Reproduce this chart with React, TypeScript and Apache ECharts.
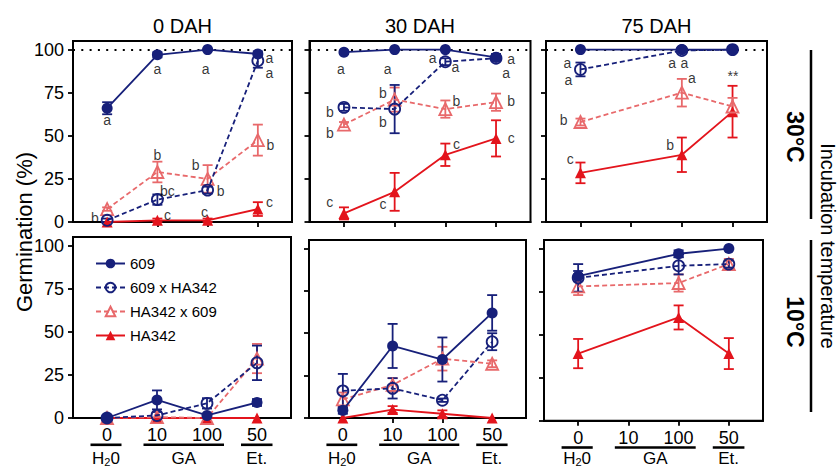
import React, { useEffect, useRef } from "react";
import * as echarts from "echarts";

// ---------- tick labels, titles, names ----------
const doseTicks = ["0", "10", "100", "50"];
const panelTitles = ["0 DAH", "30 DAH", "75 DAH"];
const seriesNames = ["609", "609 x HA342", "HA342 x 609", "HA342"];
const groupLabels = ["H2O", "GA", "Et."];
const groupFrom = [-0.33, 0.73, 2.68];
const groupTo = [0.29, 2.34, 3.31];
const yTicks = [0, 25, 50, 75, 100];

// ---------- 30 °C, 0 DAH ----------
const v609_0d30 = [66, 97, 100, 97.5];
const e609_0d30 = [3.5, 1.5, 0.5, 1.5];
const vF1_0d30 = [1, 13, 18.5, 93.5];
const eF1_0d30 = [1, 3, 2, 4];
const vR1_0d30 = [7.5, 29, 25, 47.5];
const eR1_0d30 = [1, 6, 8, 9];
const vHA_0d30 = [0, 1, 1, 7.5];
const eHA_0d30 = [0, 1, 1, 4];

// ---------- 30 °C, 30 DAH ----------
const v609_30d30 = [98.5, 100, 100, 95.5];
const e609_30d30 = [1, 0, 0, 2];
const vF1_30d30 = [66.5, 65.5, 93, 95];
const eF1_30d30 = [2, 14, 2, 1.5];
const vR1_30d30 = [56.5, 71, 65.5, 69.5];
const eR1_30d30 = [1.5, 7, 5, 5];
const vHA_30d30 = [5, 17.5, 39, 48.5];
const eHA_30d30 = [3.5, 11, 6.5, 10.5];

// ---------- 30 °C, 75 DAH ----------
const v609_75d30 = [100, null, 100, 100];
const e609_75d30 = [0, null, 0, 0];
const vF1_75d30 = [88.5, null, 99.5, 100];
const eF1_75d30 = [4, null, 0.5, 0];
const vR1_75d30 = [58, null, 75, 67];
const eR1_75d30 = [2, null, 8, 5];
const vHA_75d30 = [28.5, null, 39, 64];
const eHA_75d30 = [6, null, 10, 15];

// ---------- 10 °C, 0 DAH ----------
const v609_0d10 = [0, 10.5, 1.5, 9];
const e609_0d10 = [0, 5.5, 1, 2];
const vF1_0d10 = [0, 1.5, 8.5, 32];
const eF1_0d10 = [0, 2, 3, 10];
const vR1_0d10 = [0, 0.5, 0, 34.5];
const eR1_0d10 = [0, 0, 0, 8.5];
const vHA_0d10 = [0, 0, 0, 0];
const eHA_0d10 = [0, 0, 0, 0];

// ---------- 10 °C, 30 DAH ----------
const v609_30d10 = [4.5, 42.5, 34.5, 62];
const e609_30d10 = [2, 13, 13, 10.5];
const vF1_30d10 = [16, 17.5, 10.5, 45];
const eF1_30d10 = [10, 6, 1, 5];
const vR1_30d10 = [11, 19.5, 35, 32];
const eR1_30d10 = [4, 4, 7, 2];
const vHA_30d10 = [0, 5, 2.5, 0];
const eHA_30d10 = [0, 2, 2, 0];

// ---------- 10 °C, 75 DAH ----------
const v609_75d10 = [84, null, 97, 100];
const e609_75d10 = [3, null, 2, 0];
const vF1_75d10 = [83, null, 90, 91];
const eF1_75d10 = [8, null, 5, 2];
const vR1_75d10 = [78, null, 80, 91];
const eR1_75d10 = [5, null, 5, 3];
const vHA_75d10 = [39, null, 60, 39];
const eHA_75d10 = [8.5, null, 7, 9];

// ---------- significance letters [x, y, text] ----------
const let_0d30: [number, number, string][] = [
  [0, 59.3, "a"], [1.0, 88.7, "a"], [1.96, 88.7, "a"], [3.23, 95.0, "a"], [3.23, 86.5, "a"],
  [-0.245, 2.1, "b"], [1.2, 18, "bc"], [2.26, 18, "b"],
  [1.0, 38.7, "b"], [1.76, 32.9, "b"], [3.25, 44.4, "b"],
  [1.2, 4, "c"], [1.94, 5.6, "c"], [3.23, 11.7, "c"],
];
const let_30d30: [number, number, string][] = [
  [-0.06, 88.9, "a"], [0.86, 88.9, "a"], [1.75, 95.2, "a"], [2.2, 90, "a"], [3.3, 94.6, "a"], [3.2, 86.6, "a"],
  [-0.28, 64, "b"], [-0.28, 51.4, "b"], [0.77, 75, "b"], [0.77, 58.3, "b"], [2.22, 70.4, "b"], [3.3, 70.4, "b"],
  [-0.28, 11.5, "c"], [0.77, 10.4, "c"], [2.22, 45, "c"], [3.3, 49, "c"],
];
const let_75d30: [number, number, string][] = [
  [-0.26, 92.3, "a"], [-0.24, 82.5, "a"], [1.81, 92.3, "a"], [2.05, 92.3, "a"],
  [-0.33, 58.9, "b"], [2.2, 83.7, "a"], [3.01, 84.8, "**"],
  [-0.2, 36.4, "c"], [1.77, 44.4, "b"],
];

const panelValues = [
  [v609_0d30, vF1_0d30, vR1_0d30, vHA_0d30],
  [v609_30d30, vF1_30d30, vR1_30d30, vHA_30d30],
  [v609_75d30, vF1_75d30, vR1_75d30, vHA_75d30],
  [v609_0d10, vF1_0d10, vR1_0d10, vHA_0d10],
  [v609_30d10, vF1_30d10, vR1_30d10, vHA_30d10],
  [v609_75d10, vF1_75d10, vR1_75d10, vHA_75d10],
];
const panelErrors = [
  [e609_0d30, eF1_0d30, eR1_0d30, eHA_0d30],
  [e609_30d30, eF1_30d30, eR1_30d30, eHA_30d30],
  [e609_75d30, eF1_75d30, eR1_75d30, eHA_75d30],
  [e609_0d10, eF1_0d10, eR1_0d10, eHA_0d10],
  [e609_30d10, eF1_30d10, eR1_30d10, eHA_30d10],
  [e609_75d10, eF1_75d10, eR1_75d10, eHA_75d10],
];
const panelLetters = [let_0d30, let_30d30, let_75d30, [], [], []];

// ---------- layout & styles ----------
const FONT = "Liberation Sans, Arial, Helvetica, sans-serif";
const NAVY = "#17207a";
const PINK = "#e8696b";
const RED = "#e3141c";
const layout = [
  [73, 41, 219, 181],
  [309.5, 41, 221, 181],
  [546, 41, 221, 181],
  [73, 237, 218, 181],
  [309, 240, 217, 178],
  [544, 240, 219, 180.7],
];
const seriesStyle = [
  { color: NAVY, dashed: false, symbol: "circle", filled: true, size: 11 },
  { color: NAVY, dashed: true, symbol: "circle", filled: false, size: 11 },
  { color: PINK, dashed: true, symbol: "triangle", filled: false, size: 12 },
  { color: RED, dashed: false, symbol: "triangle", filled: true, size: 11 },
];

function buildOption() {
  const grid: any[] = [];
  const xAxis: any[] = [];
  const yAxis: any[] = [];
  const series: any[] = [];

  layout.forEach(([left, top, width, height], i) => {
    const bottomRow = i >= 3;
    grid.push({
      left, top, width, height,
      show: true, borderColor: "#000", borderWidth: 2,
      backgroundColor: "transparent", containLabel: false,
    });
    xAxis.push({
      type: "value", gridIndex: i, min: -0.68, max: 3.68,
      axisLine: { show: true, onZero: false, lineStyle: { color: "#000", width: 2 } },
      axisTick: { show: true, customValues: [0, 1, 2, 3], length: 5, lineStyle: { color: "#000", width: 1.8 } },
      axisLabel: {
        show: bottomRow, customValues: [0, 1, 2, 3],
        formatter: (v: number) => doseTicks[Math.round(v)] ?? "",
        fontSize: 18, color: "#000", margin: 8, fontFamily: FONT,
      },
      splitLine: { show: false },
    });
    yAxis.push({
      type: "value", gridIndex: i, min: 0, max: 105,
      axisLine: { show: true, onZero: false, lineStyle: { color: "#000", width: 2 } },
      axisTick: { show: true, customValues: yTicks, length: 5, lineStyle: { color: "#000", width: 1.8 } },
      axisLabel: {
        show: i % 3 === 0, customValues: yTicks,
        fontSize: 18, color: "#000", margin: 9, fontFamily: FONT,
      },
      splitLine: { show: false },
    });

    // draw series in reverse so "609" ends up on top
    for (let s = 3; s >= 0; s--) {
      const st = seriesStyle[s];
      const vals = panelValues[i][s];
      const errs = panelErrors[i][s];
      const pts: number[][] = [];
      const eb: number[][] = [];
      vals.forEach((v, k) => {
        if (v === null || v === undefined) return;
        pts.push([k, v as number]);
        eb.push([k, v as number, (errs[k] as number) || 0]);
      });
      series.push({
        type: "custom", xAxisIndex: i, yAxisIndex: i, silent: true, z: 2,
        encode: { x: 0, y: 1 }, data: eb, clip: false,
        renderItem: (params: any, api: any) => {
          const x = api.value(0), y = api.value(1), e = api.value(2);
          if (!e) return null;
          const t = api.coord([x, y + e]);
          const b = api.coord([x, y - e]);
          const hw = 5;
          const style = { stroke: st.color, lineWidth: 1.8, fill: "none" };
          return {
            type: "group",
            children: [
              { type: "line", shape: { x1: t[0], y1: t[1], x2: b[0], y2: b[1] }, style },
              { type: "line", shape: { x1: t[0] - hw, y1: t[1], x2: t[0] + hw, y2: t[1] }, style },
              { type: "line", shape: { x1: b[0] - hw, y1: b[1], x2: b[0] + hw, y2: b[1] }, style },
            ],
          };
        },
      });
      const line: any = {
        type: "line", name: seriesNames[s], xAxisIndex: i, yAxisIndex: i,
        data: pts, symbol: st.symbol, symbolSize: st.size, showSymbol: true,
        clip: false, z: 3 + (3 - s),
        lineStyle: { color: st.color, width: 1.8, type: st.dashed ? [5, 3] : "solid" },
        itemStyle: st.filled
          ? { color: st.color, borderWidth: 0 }
          : { color: "rgba(255,255,255,0)", borderColor: st.color, borderWidth: 1.8 },
        emphasis: { disabled: true },
      };
      if (s === 0 && i < 3) {
        line.markLine = {
          silent: true, symbol: "none", label: { show: false },
          lineStyle: { color: "#000", type: [2, 6.3], width: 2.2 },
          data: [{ yAxis: 100 }], z: 1,
        };
      }
      series.push(line);
    }

    // significance letters
    const letters = panelLetters[i];
    if (letters.length) {
      series.push({
        type: "scatter", xAxisIndex: i, yAxisIndex: i, silent: true, z: 10,
        symbolSize: 1, itemStyle: { color: "rgba(0,0,0,0)" },
        data: letters.map(([x, y, t]) => ({ value: [x, y], name: t })),
        label: {
          show: true, position: "inside", formatter: "{b}",
          fontSize: 14, lineHeight: 12, color: "#000", fontFamily: FONT,
        },
        labelLayout: { hideOverlap: false },
        emphasis: { disabled: true },
      });
    }

    // treatment groups under bottom row
    if (bottomRow) {
      series.push({
        type: "custom", xAxisIndex: i, yAxisIndex: i, silent: true, z: 5, clip: false,
        encode: { x: [0, 1] },
        data: groupFrom.map((f, k) => [f, groupTo[k]]),
        renderItem: (params: any, api: any) => {
          const a = api.coord([api.value(0), 0]);
          const b = api.coord([api.value(1), 0]);
          const y = a[1];
          const lab = groupLabels[params.dataIndex];
          const text = lab === "H2O" ? "{n|H}{s|2}{n|0}" : `{n|${lab}}`;
          return {
            type: "group",
            children: [
              { type: "rect", shape: { x: a[0], y: y + 25.5, width: b[0] - a[0], height: 2.6 }, style: { fill: "#000" } },
              {
                type: "text", x: (a[0] + b[0]) / 2, y: Math.min(y + 40, 458),
                style: {
                  text, align: "center", verticalAlign: "middle", fill: "#000",
                  rich: {
                    n: { fontSize: 17, fontFamily: FONT, lineHeight: 17 },
                    s: { fontSize: 11, fontFamily: FONT, verticalAlign: "bottom", lineHeight: 19 },
                  },
                },
              },
            ],
          };
        },
      });
    }
  });

  const graphic: any[] = [];
  panelTitles.forEach((t, c) => {
    const [left, , width] = layout[c];
    graphic.push({
      type: "text", x: left + width / 2, y: 26, silent: true,
      style: { text: t, fontSize: 20, fontFamily: FONT, fill: "#000", align: "center", verticalAlign: "middle" },
    });
  });
  graphic.push(
    {
      type: "text", x: 24, y: 232, rotation: Math.PI / 2, silent: true,
      style: { text: "Germination (%)", fontSize: 22, fontFamily: FONT, fill: "#000", align: "center", verticalAlign: "middle" },
    },
    { type: "line", silent: true, shape: { x1: 811, y1: 50, x2: 811, y2: 219 }, style: { stroke: "#000", lineWidth: 2.5 } },
    { type: "line", silent: true, shape: { x1: 811, y1: 240, x2: 811, y2: 412 }, style: { stroke: "#000", lineWidth: 2.5 } },
    {
      type: "text", x: 795, y: 137, rotation: -Math.PI / 2, silent: true,
      style: { text: "30°C", fontSize: 23, fontWeight: "bold", fontFamily: FONT, fill: "#000", align: "center", verticalAlign: "middle" },
    },
    {
      type: "text", x: 795, y: 322, rotation: -Math.PI / 2, silent: true,
      style: { text: "10°C", fontSize: 23, fontWeight: "bold", fontFamily: FONT, fill: "#000", align: "center", verticalAlign: "middle" },
    },
    {
      type: "text", x: 828, y: 246, rotation: -Math.PI / 2, silent: true,
      style: { text: "Incubation temperature", fontSize: 20, fontFamily: FONT, fill: "#000", align: "center", verticalAlign: "middle" },
    }
  );

  return {
    animation: false,
    backgroundColor: "#fff",
    textStyle: { fontFamily: FONT },
    legend: {
      data: seriesNames, orient: "vertical", left: 95, top: 256, padding: 0,
      itemWidth: 29, itemHeight: 12, itemGap: 9,
      textStyle: { fontSize: 15, color: "#000", fontFamily: FONT },
      selectedMode: false,
    },
    grid, xAxis, yAxis, series, graphic,
  };
}

export default function App() {
  const ref = useRef<HTMLDivElement>(null);
  useEffect(() => {
    document.body.style.margin = "0";
    if (!ref.current) return;
    const chart = echarts.init(ref.current, null, { renderer: "svg" });
    chart.setOption(buildOption() as any);
    return () => chart.dispose();
  }, []);
  return <div ref={ref} style={{ width: 838, height: 468 }} />;
}
